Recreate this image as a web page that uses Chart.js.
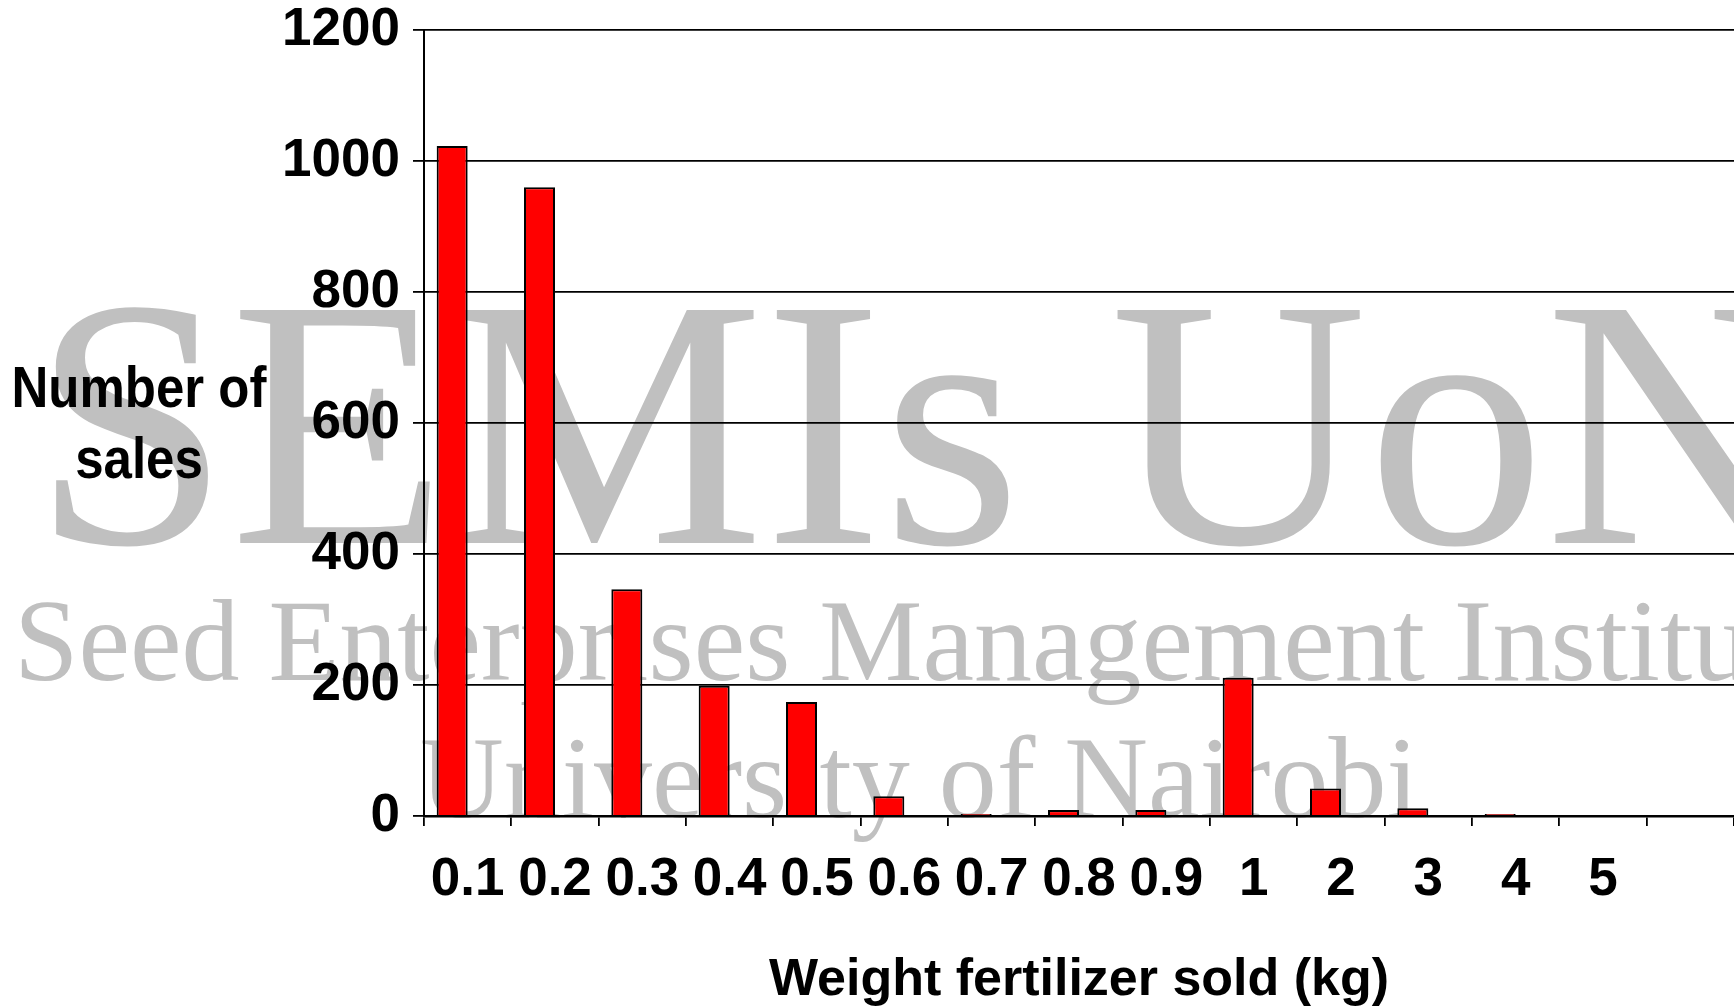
<!DOCTYPE html>
<html>
<head>
<meta charset="utf-8">
<script src="https://cdn.jsdelivr.net/npm/chart.js@4/dist/chart.umd.min.js"></script>
<style>
  html, body { margin: 0; padding: 0; background: #fff; }
  canvas { display: block; }
</style>
</head>
<body>
<canvas id="myChart" width="1734" height="1007"></canvas>
<script>
const ctx = document.getElementById('myChart');

// weight classes (kg), the last slot has no label
const categories = ['0.1', '0.2', '0.3', '0.4', '0.5', '0.6', '0.7', '0.8', '0.9', '1', '2', '3', '4', '5', ''];
const sales = [1023, 960, 346, 199, 174, 30, 3, 9, 9, 211, 42, 12, 3, 0, 0];
const emptySeries = [null, null, null, null, null, null, null, null, null, null, null, null, null, null, null];
const yMin = 0, yMax = 1200, yStep = 200;

const yTitleLines = ['Number of', 'sales'];
const xTitle = 'Weight fertilizer sold (kg)';
const watermark = ['SEMIs UoN', 'Seed Enterprises Management Institute', 'University of Nairobi'];

const boldFont = "'Liberation Sans', Arial, sans-serif";
const serifFont = "'Liberation Serif', 'DejaVu Serif', serif";

// grey watermark behind everything
const watermarkPlugin = {
  id: 'watermark',
  beforeDraw(chart) {
    const c = chart.ctx;
    c.save();
    c.fillStyle = '#c0c0c0';
    c.textAlign = 'left';
    c.textBaseline = 'alphabetic';
    c.font = '356px ' + serifFont;
    c.fillText(watermark[0], 32, 543);
    c.font = '116px ' + serifFont;
    c.fillText(watermark[1], 14, 680);
    c.fillText(watermark[2], 420, 817);
    c.restore();
  }
};

// y title is written flat on the left, not rotated
const yTitlePlugin = {
  id: 'ytitle',
  afterDraw(chart) {
    const c = chart.ctx;
    c.save();
    c.fillStyle = '#000';
    c.textAlign = 'center';
    c.textBaseline = 'alphabetic';
    c.font = 'bold 51px ' + boldFont;
    c.translate(139, 0);
    c.scale(1, 1.12);
    c.fillText(yTitleLines[0], 0, 407 / 1.12);
    c.fillText(yTitleLines[1], 0, 478 / 1.12);
    c.restore();
  }
};

let t = {
  type: 'bar',
  data: {
    labels: categories,
    datasets: [
      {
        label: 'sales',
        data: sales,
        backgroundColor: '#ff0000',
        borderColor: '#000000',
        borderWidth: 2,
        barPercentage: 1.0,
        categoryPercentage: 0.71
      },
      {
        label: 'empty',
        data: emptySeries,
        backgroundColor: '#ff0000',
        borderColor: '#000000',
        borderWidth: 2,
        barPercentage: 1.0,
        categoryPercentage: 0.71
      }
    ]
  },
  options: {
    responsive: false,
    animation: false,
    layout: { padding: { left: 0, top: 30, right: 0, bottom: 0 } },
    plugins: {
      legend: { display: false },
      tooltip: { enabled: false }
    },
    scales: {
      x: {
        grid: {
          display: true,
          drawOnChartArea: false,
          drawTicks: true,
          tickLength: 10,
          color: '#000',
          lineWidth: 1.8
        },
        border: { display: true, color: '#000', width: 2.5 },
        ticks: {
          color: '#000',
          padding: 28,
          maxRotation: 0,
          autoSkip: false,
          font: { family: boldFont, size: 53, weight: 'bold', lineHeight: 1 }
        },
        title: {
          display: true,
          text: xTitle,
          color: '#000',
          font: { family: boldFont, size: 52, weight: 'bold', lineHeight: 1 },
          padding: { top: 0, bottom: 0 }
        },
        afterFit(scale) { scale.height = 191; }
      },
      y: {
        min: yMin,
        max: yMax,
        grid: {
          color: '#000',
          lineWidth: 1.8,
          tickLength: 11
        },
        border: { display: true, color: '#000', width: 2 },
        ticks: {
          stepSize: yStep,
          color: '#000',
          padding: 13,
          callback: (v) => String(v),
          font: { family: boldFont, size: 53, weight: 'bold', lineHeight: 1 }
        },
        afterFit(scale) {
          scale.width = 424;
          scale.paddingTop = 0;
          scale.paddingBottom = 0;
        }
      }
    }
  },
  plugins: [watermarkPlugin, yTitlePlugin]
};

let cc = new Chart(ctx, t);
</script>
</body>
</html>
